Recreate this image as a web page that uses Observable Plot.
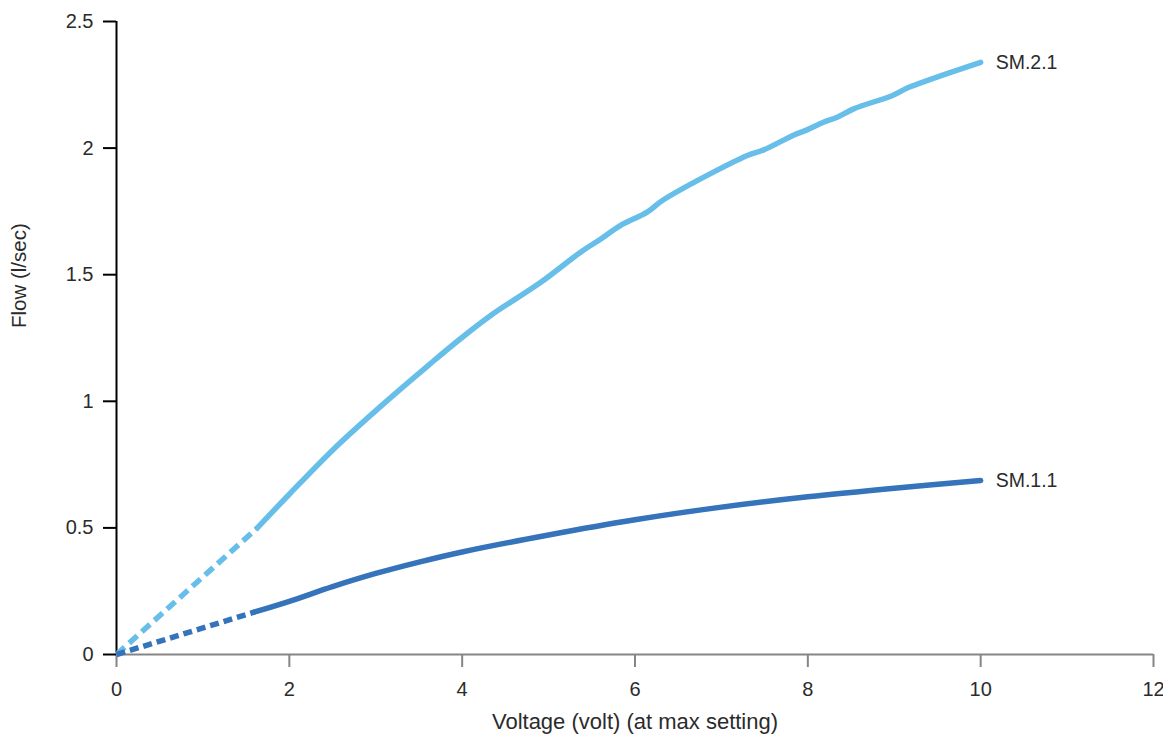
<!DOCTYPE html>
<html>
<head>
<meta charset="utf-8">
<script src="https://cdn.jsdelivr.net/npm/d3@7"></script>
<script src="https://cdn.jsdelivr.net/npm/@observablehq/plot@0.6"></script>
<style>
  html, body { margin: 0; padding: 0; background: #fff; }
  #chart { width: 1163px; height: 736px; }
</style>
</head>
<body>
<div id="chart"></div>
<script>
// ---- data ----
const seriesNames = ["SM.2.1", "SM.1.1"];
const seriesColors = ["#66bee9", "#3573bb"];

// SM.2.1 extrapolated (dashed) part
const sm21DashV = [0, 1.63];
const sm21DashF = [0, 0.5];
// SM.2.1 measured (solid) part
const sm21V = [1.63, 2.0, 2.515, 3.09, 3.63, 3.98, 4.33, 4.91, 5.37, 5.6, 5.83, 6.14, 6.33, 7.30, 7.49, 7.84, 7.99, 8.18, 8.34, 8.53, 8.98, 9.17, 10.0];
const sm21F = [0.5, 0.633, 0.812, 0.99, 1.148, 1.247, 1.339, 1.47, 1.589, 1.64, 1.694, 1.747, 1.796, 1.971, 1.993, 2.052, 2.072, 2.102, 2.122, 2.155, 2.208, 2.24, 2.339];

// SM.1.1 extrapolated (dashed) part
const sm11DashV = [0, 1.6];
const sm11DashF = [0, 0.168];
// SM.1.1 measured (solid) part
const sm11V = [1.6, 2, 2.5, 3, 3.5, 4, 5, 6, 7, 8, 9, 10];
const sm11F = [0.168, 0.21, 0.268, 0.32, 0.365, 0.405, 0.472, 0.532, 0.582, 0.623, 0.657, 0.687];

const xTicks = [0, 2, 4, 6, 8, 10, 12];
const yTicks = [0, 0.5, 1, 1.5, 2, 2.5];
const xLabel = "Voltage (volt) (at max setting)";
const yLabel = "Flow (l/sec)";

// ---- build tables ----
const zip = (vs, fs, name) => vs.map((v, i) => ({v, f: fs[i], name}));
const sm21Dash = zip(sm21DashV, sm21DashF, seriesNames[0]);
const sm21 = zip(sm21V, sm21F, seriesNames[0]);
const sm11Dash = zip(sm11DashV, sm11DashF, seriesNames[1]);
const sm11 = zip(sm11V, sm11F, seriesNames[1]);
const ends = [sm21[sm21.length - 1], sm11[sm11.length - 1]];

const font = "'Liberation Sans', Arial, Helvetica, sans-serif";
const fmt = d => String(d);

const chart = Plot.plot({
  width: 1163,
  height: 736,
  marginLeft: 116,
  marginRight: 10,
  marginTop: 21,
  marginBottom: 82,
  x: {domain: [0, 12]},
  y: {domain: [0, 2.5]},
  style: {fontFamily: font, fontSize: "20px", color: "#2b2b2b", background: "#fff", overflow: "visible"},
  marks: [
    // x axis (grey)
    Plot.ruleY([0], {stroke: "#858585", strokeWidth: 2}),
    Plot.axisX({ticks: xTicks, tickFormat: fmt, tickSize: 13, tickPadding: 14, stroke: "#858585", strokeWidth: 2, fill: "#2b2b2b", label: null, fontSize: 20}),
    // y axis (black)
    Plot.ruleX([0], {stroke: "#000", strokeWidth: 2}),
    Plot.axisY({ticks: yTicks, tickFormat: fmt, tickSize: 13, tickPadding: 10, stroke: "#000", strokeWidth: 2, fill: "#2b2b2b", label: null, fontSize: 20}),
    // dashed extrapolations
    Plot.line(sm21Dash, {x: "v", y: "f", stroke: seriesColors[0], strokeWidth: 5.5, strokeDasharray: "11,6", strokeLinecap: "butt"}),
    Plot.line(sm11Dash, {x: "v", y: "f", stroke: seriesColors[1], strokeWidth: 5.5, strokeDasharray: "9,5", strokeLinecap: "butt"}),
    // solid measured curves
    Plot.line(sm21, {x: "v", y: "f", stroke: seriesColors[0], strokeWidth: 5.5, curve: "catmull-rom", strokeLinecap: "round", strokeLinejoin: "round"}),
    Plot.line(sm11, {x: "v", y: "f", stroke: seriesColors[1], strokeWidth: 5.5, curve: "catmull-rom", strokeLinecap: "round", strokeLinejoin: "round"}),
    // end labels
    Plot.text(ends, {x: "v", y: "f", text: "name", dx: 15, textAnchor: "start", fill: "#2b2b2b", fontSize: 19.5}),
    // axis titles
    Plot.text([xLabel], {frameAnchor: "bottom", dy: 74, fill: "#2b2b2b", fontSize: 22}),
    Plot.text([yLabel], {frameAnchor: "left", rotate: -90, dx: -97, dy: -10, fill: "#2b2b2b", fontSize: 20.5})
  ]
});
document.getElementById("chart").appendChild(chart);
</script>
</body>
</html>
